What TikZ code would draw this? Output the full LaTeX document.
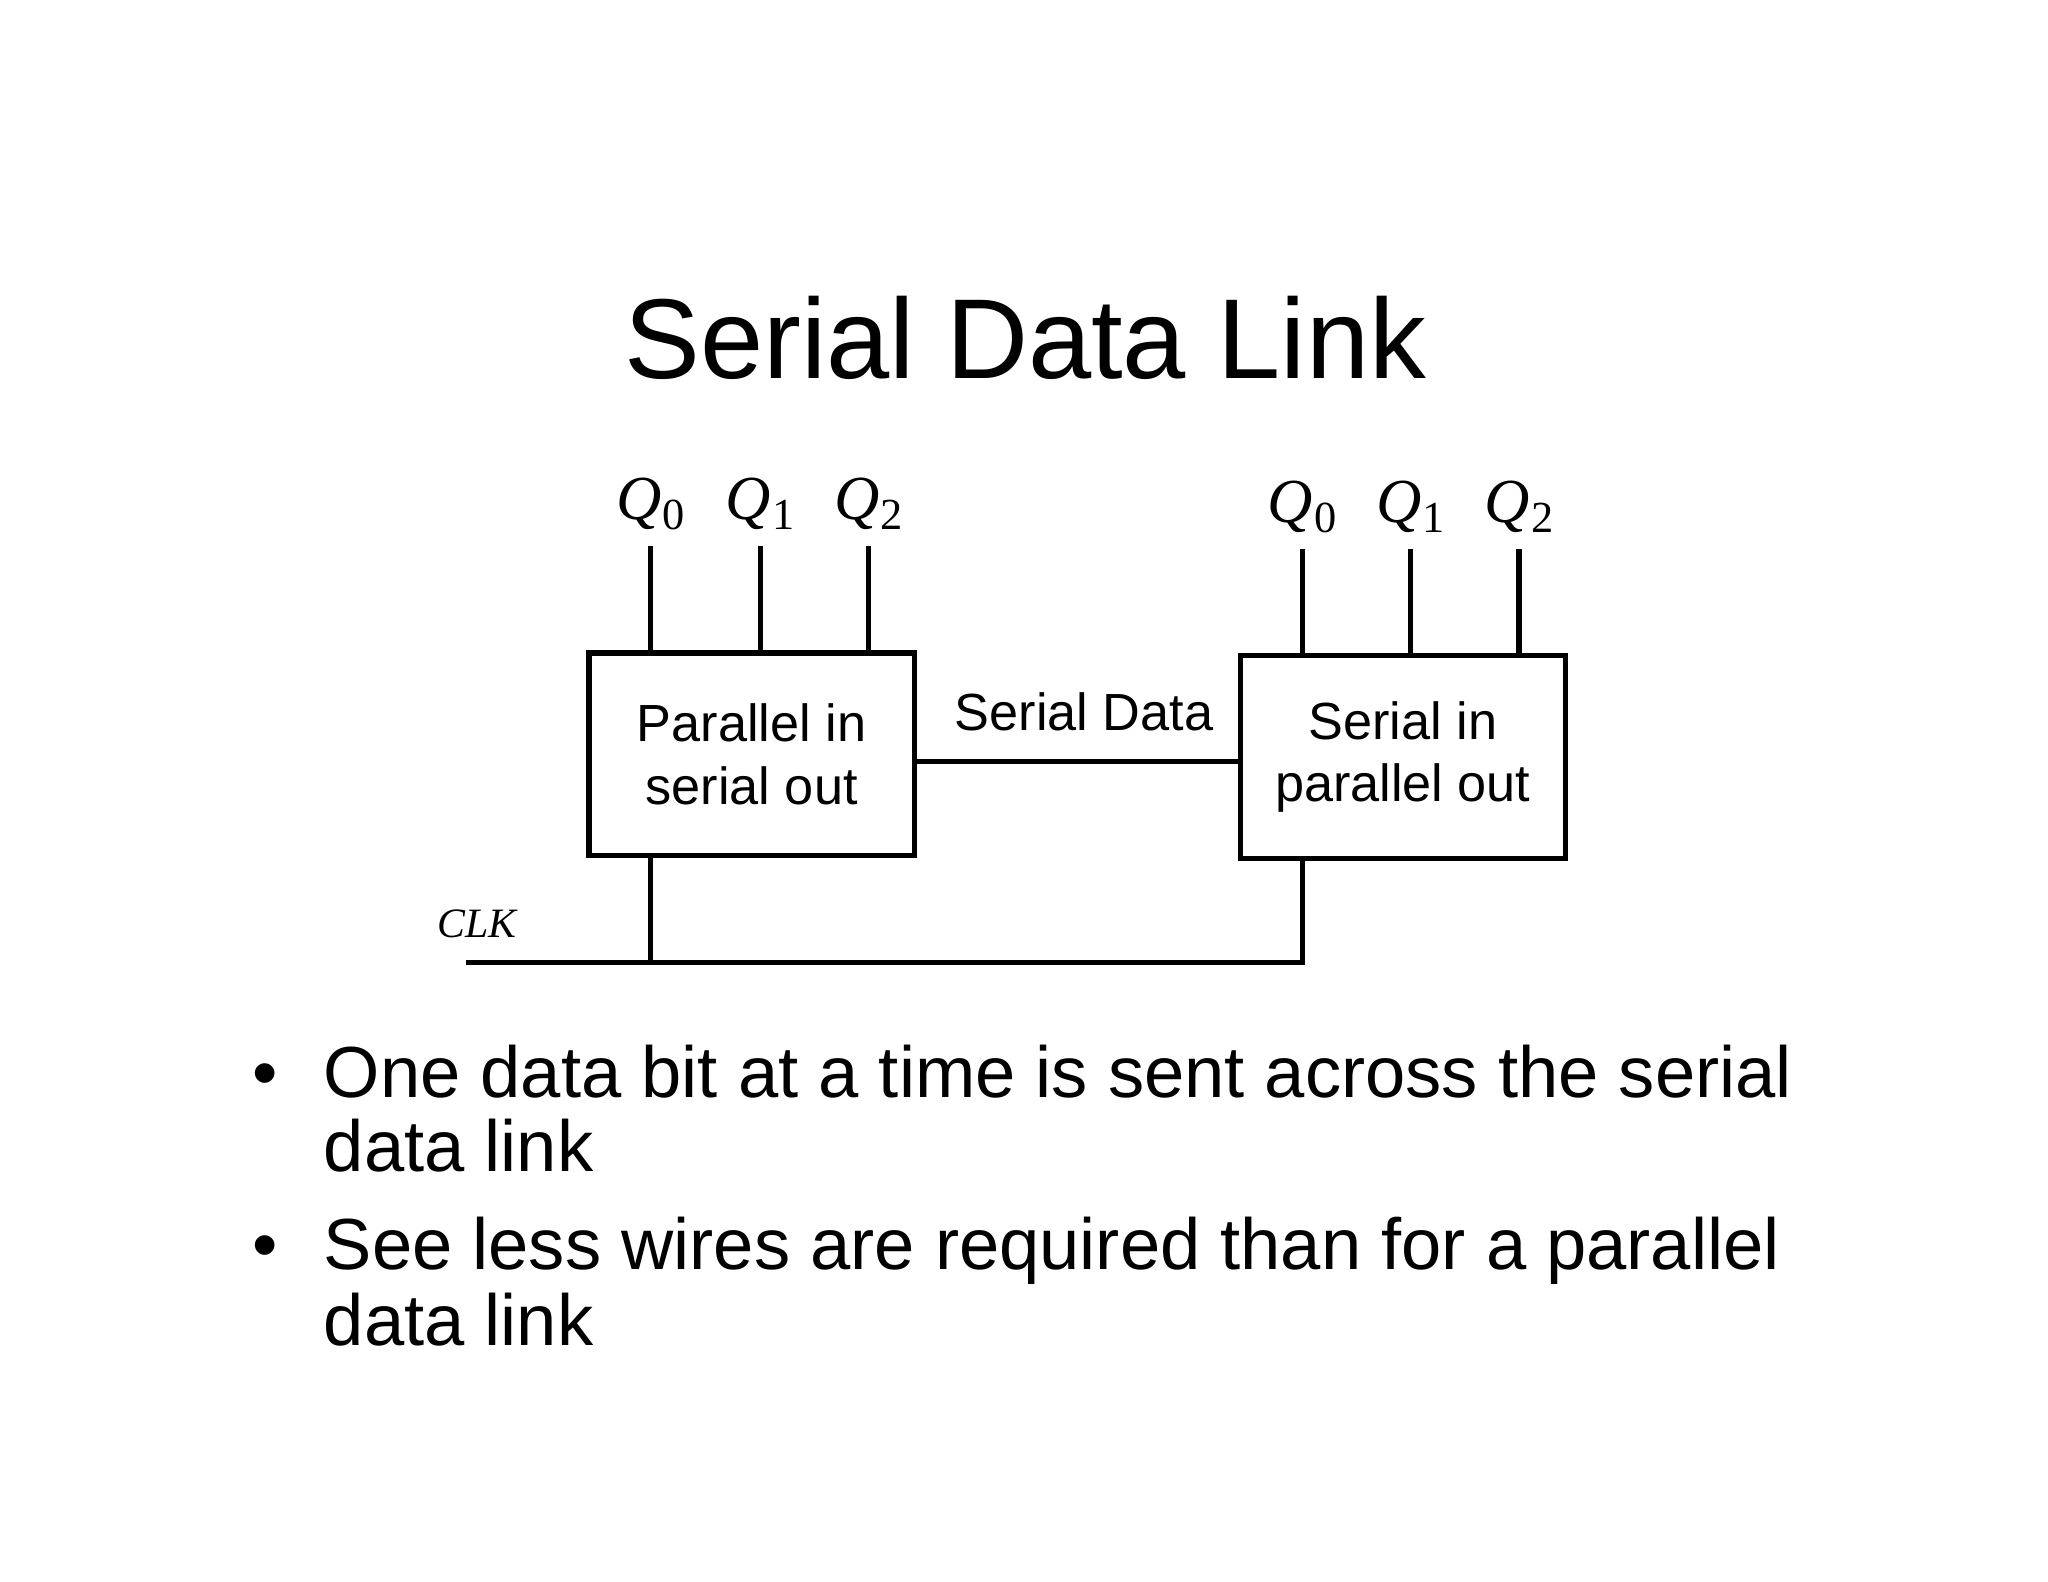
\documentclass[tikz,border=0pt]{standalone}
\usepackage{fontspec}
\setmainfont{Liberation Sans}
\newfontfamily\serifq{Liberation Serif}
\newcommand{\qsub}[1]{\kern0.5pt\raisebox{-0.35ex}{\upshape\fontsize{17}{20}\selectfont #1}}
\begin{document}
\begin{tikzpicture}[x=0.5pt,y=-0.5pt,line width=2pt,
  box/.style={draw,minimum width=124.5pt,minimum height=77.5pt,align=center,font=\fontsize{20}{24}\selectfont,inner sep=0pt},
  ql/.style={font=\serifq\itshape\fontsize{24}{28}\selectfont,anchor=base},
  bt/.style={font=\fontsize{27.7}{31}\selectfont,anchor=base west,inner sep=0pt}]
\useasboundingbox (0,0) rectangle (1568,1211);
\node[font=\fontsize{43.5}{48}\selectfont,anchor=base] (title) at (785,290) {Serial Data Link};
\node[box] (A) at (575.5,577.5) {Parallel in\\serial out};
\node[box] (B) at (1074,579.5) {Serial in\\parallel out};
\foreach \x/\i in {498/0,582/1,665/2}{
  \coordinate (a\i) at (\x,418);
  \draw (a\i) -- (a\i |- A.north);
  \node[ql] at (\x,398) {Q\qsub{\i}};}
\foreach \x/\i in {997/0,1080/1,1163/2}{
  \coordinate (b\i) at (\x,420);
  \draw (b\i) -- (b\i |- B.north);
  \node[ql] at (\x,400) {Q\qsub{\i}};}
\draw (A.east |- 0,583) -- (B.west |- 0,583);
\node[font=\fontsize{20}{24}\selectfont] (sd) at (830,545) {Serial Data};
\coordinate (c0) at (357,737);
\coordinate (c1) at (498,737);
\coordinate (c2) at (997,737);
\draw (c0) -- (c2) -- (c2 |- B.south);
\draw (c1) -- (c1 |- A.south);
\node[font=\serifq\itshape\fontsize{16}{20}\selectfont] (clk) at (365,707) {CLK};
\node[bt] (d1) at (191,840) {•};
\node[bt] (t1) at (246,840) {One data bit at a time is sent across the serial};
\node[bt] (t1b) at (246,897) {data link};
\node[bt] (d2) at (191,972) {•};
\node[bt] (t2) at (246,972) {See less wires are required than for a parallel};
\node[bt] (t2b) at (246,1030) {data link};
\end{tikzpicture}
\end{document}
